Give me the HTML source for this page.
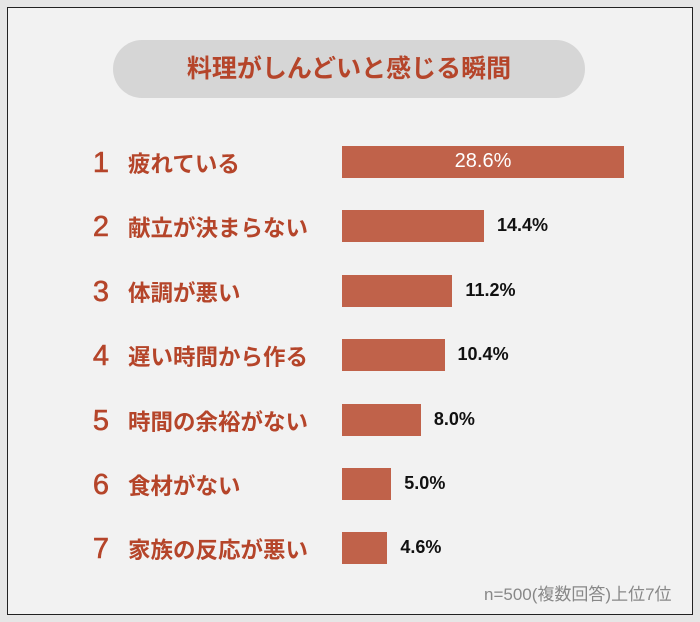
<!DOCTYPE html>
<html><head><meta charset="utf-8"><style>
body{margin:0;width:700px;height:622px;background:#e6e6e6;font-family:"Liberation Sans","Noto Sans CJK JP",sans-serif;overflow:hidden}
#frame{position:absolute;left:7px;top:7px;width:684px;height:606px;border:1.5px solid #222;background:#f2f2f2}
#title{position:absolute;left:113px;top:40px;width:472px;height:58px;border-radius:29px;background:#d6d6d6;color:#b5452a;font-size:25px;font-weight:bold;text-align:center;line-height:58px}
.num{position:absolute;left:86px;width:30px;text-align:center;font-size:29px;color:#b5452a;-webkit-text-stroke:0.6px #b5452a}
.lab{position:absolute;left:128px;font-size:22.5px;color:#b5452a;font-weight:bold;white-space:nowrap}
.bar{position:absolute;left:342px;height:32px;background:#c0624a}
.val{position:absolute;font-size:18px;font-weight:bold;color:#111;white-space:nowrap}
#note{position:absolute;left:484px;top:580px;font-size:17px;color:#888;white-space:nowrap}
</style></head><body>
<div id="frame"></div>
<div id="title">料理がしんどいと感じる瞬間</div>
<div id="rows"></div>
<div id="note">n=500(複数回答)上位7位</div>
<script>
const categories=["疲れている","献立が決まらない","体調が悪い","遅い時間から作る","時間の余裕がない","食材がない","家族の反応が悪い"];
const values=[28.6,14.4,11.2,10.4,8.0,5.0,4.6];
const x0=342, pxPer=282/28.6, y0=162, step=64.4;
const xs=v=>v*pxPer, ys=i=>y0+i*step;
const root=document.getElementById('rows');
categories.forEach((c,i)=>{
  const cy=ys(i);
  const n=document.createElement('div');n.className='num';n.textContent=i+1;n.style.top=(cy-15)+'px';
  
  
  root.appendChild(n);
  const l=document.createElement('div');l.className='lab';l.textContent=c;l.style.top=(cy-15)+'px';
  
  
  root.appendChild(l);
  const b=document.createElement('div');b.className='bar';b.style.top=(cy-16)+'px';b.style.width=xs(values[i])+'px';
  
  
  root.appendChild(b);
  const v=document.createElement('div');v.className='val';v.textContent=values[i].toFixed(1)+'%';
  
  
  if(i===0){v.style.color='#fff';v.style.fontSize='20px';v.style.fontWeight='normal';v.style.left=x0+'px';v.style.width=xs(values[i])+'px';v.style.textAlign='center';v.style.top=(cy-12)+'px';}
  else{v.style.left=(x0+xs(values[i])+13)+'px';v.style.top=(cy-11)+'px';}
  root.appendChild(v);
});
</script>
</body></html>
